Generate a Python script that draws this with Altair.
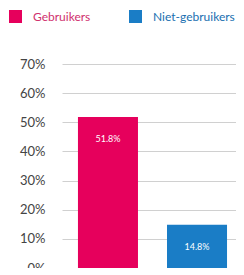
import altair as alt
import pandas as pd

categories = ["Gebruikers", "Niet-gebruikers"]
values = [51.8, 14.8]
labels = ["51.8%", "14.8%"]
colors = ["#e6005c", "#1a7dc6"]
y_ticks = [0, 10, 20, 30, 40, 50, 60, 70]

df = pd.DataFrame({"cat": categories, "val": values, "lab": labels})

x = alt.X("cat:N", sort=categories, axis=None,
          scale=alt.Scale(paddingInner=0.326, paddingOuter=0.14, align=0.64))
y = alt.Y("val:Q", scale=alt.Scale(domain=[0, 70], nice=False),
          axis=alt.Axis(values=y_ticks, labelExpr="datum.value + '%'", title=None,
                        domain=False, ticks=False, grid=True, gridColor="#d0d0d0",
                        labelColor="#444", labelFont="Lato", labelFontSize=13,
                        labelPadding=17, labelOverlap=False))

bars = alt.Chart(df).mark_bar().encode(
    x=x, y=y,
    color=alt.Color("cat:N", sort=categories,
                    scale=alt.Scale(domain=categories, range=colors),
                    legend=alt.Legend(title=None, orient="none", direction="horizontal",
                                      legendX=-53, legendY=-54, symbolType="square",
                                      symbolSize=169, symbolStrokeWidth=0,
                                      labelFont="Lato", labelFontSize=12,
                                      labelOffset=11, columnPadding=38,
                                      labelColor={"expr": "datum.label == 'Gebruikers' ? '#d0306e' : '#1a6fb0'"}))
)

text = alt.Chart(df).mark_text(color="white", font="Lato", fontSize=9, dy=22).encode(
    x=x, y=y, text="lab:N"
)

chart = (bars + text).properties(
    width=174, height=204,
    autosize=alt.AutoSizeParams(type="none"),
    padding={"left": 54, "top": 56, "right": 0, "bottom": 0},
).configure_view(stroke=None)

chart.save("out.html", embed_options={"renderer": "svg", "actions": False})
